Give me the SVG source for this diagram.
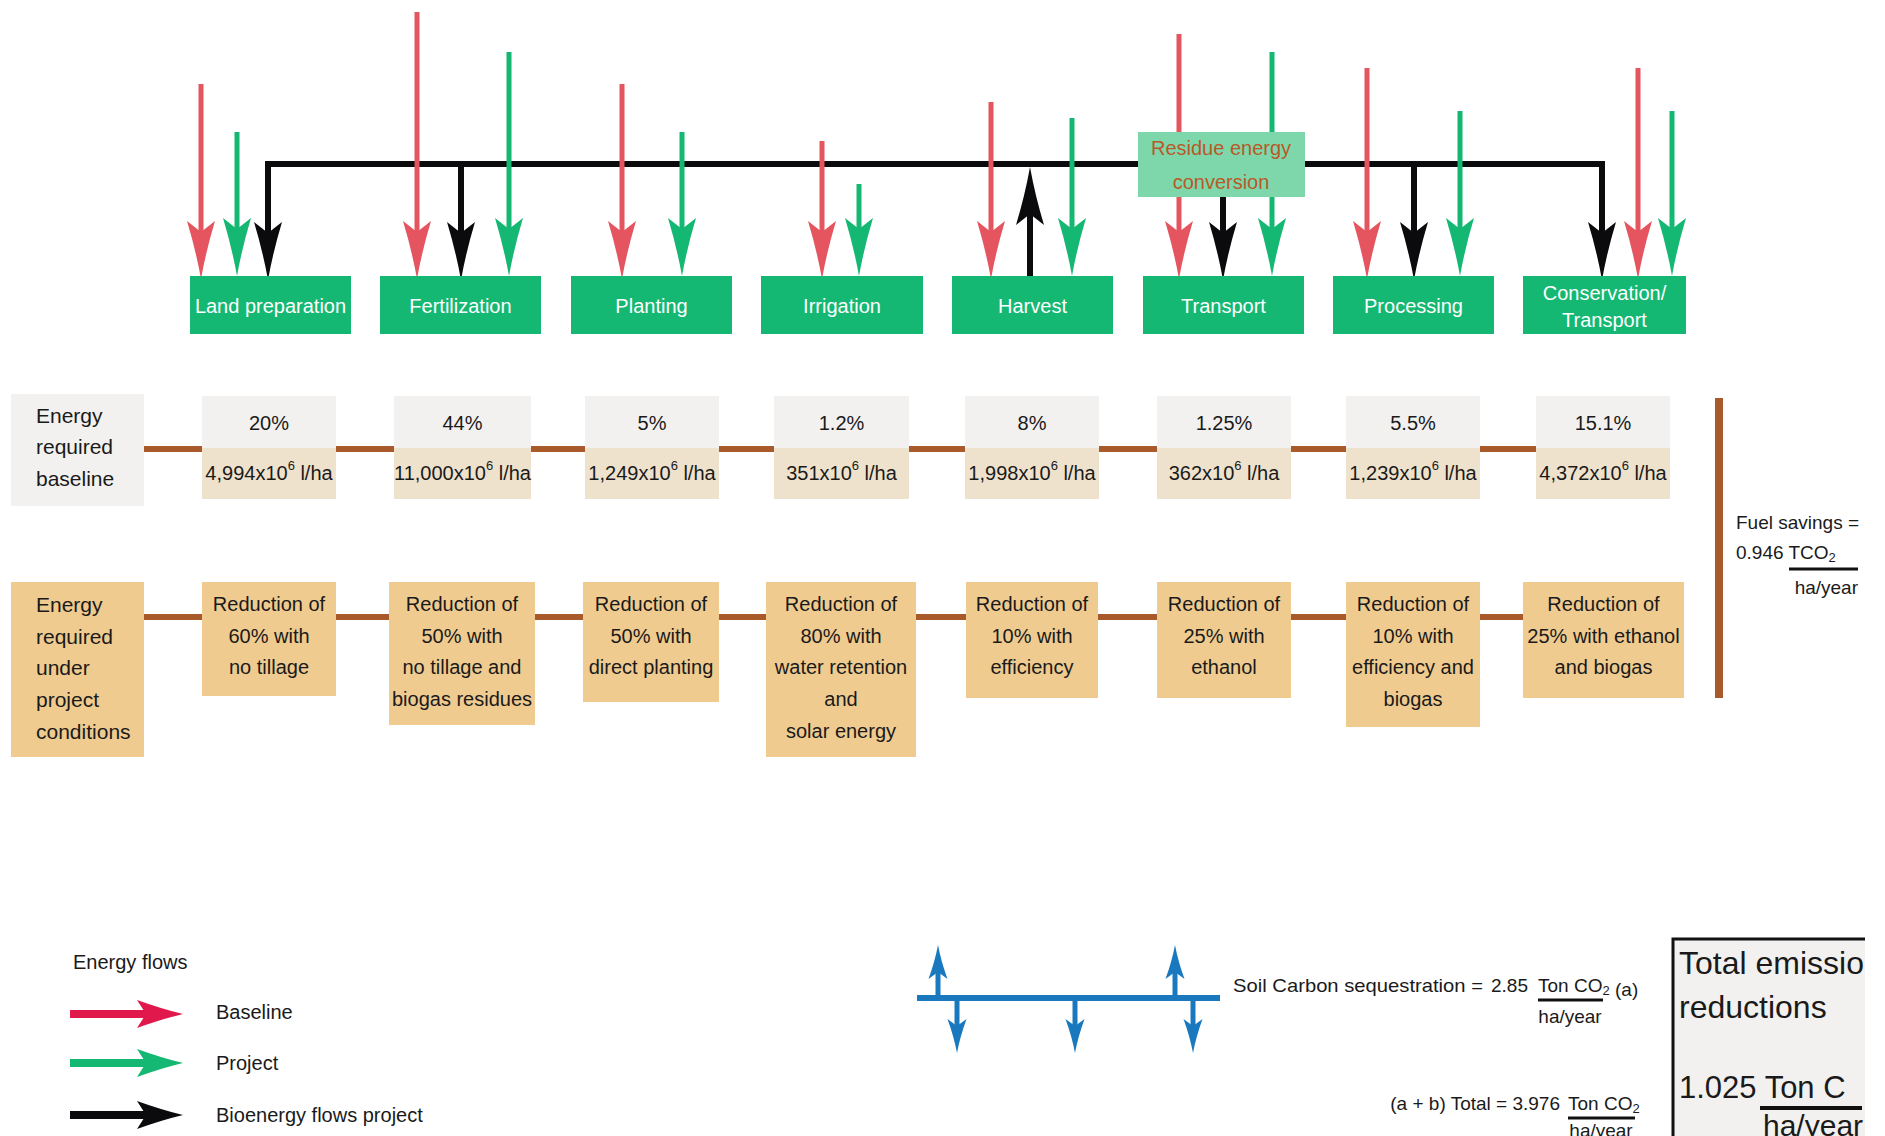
<svg xmlns="http://www.w3.org/2000/svg" width="1885" height="1136" viewBox="0 0 1885 1136">
<style>
text{font-family:"Liberation Sans",Arial,sans-serif;fill:#1a1a1a;dominant-baseline:central}
.m{text-anchor:middle}
.e{text-anchor:end}
.f20{font-size:20px}
.f21{font-size:21px}
.f19{font-size:19px}
.wt{fill:#fff;font-size:20px;text-anchor:middle}
.stage{fill:#14B872}
.gray{fill:#F2F1F0}
.beige{fill:#EFE2CC}
.tan{fill:#F0CB90}
.red{stroke:#E5555F;stroke-width:5;fill:none;marker-end:url(#hR)}
.grn{stroke:#14B872;stroke-width:5;fill:none;marker-end:url(#hG)}
.blk{stroke:#0B0B0E;stroke-width:6;fill:none;marker-end:url(#hK)}
.blu{stroke:#1A78BF;stroke-width:5;fill:none;marker-end:url(#hB)}
.brown{stroke:#A85A2B;stroke-width:6;fill:none}
.bar{stroke:#111;stroke-width:3}
</style>
<defs>
<marker id="hR" markerUnits="userSpaceOnUse" viewBox="0 -15 58 30" refX="28" refY="0" markerWidth="58" markerHeight="30" orient="auto"><path d="M58,0 Q30,-5 0,-14 L11,0 L0,14 Q30,5 58,0Z" fill="#E5555F"/></marker>
<marker id="hG" markerUnits="userSpaceOnUse" viewBox="0 -15 58 30" refX="28" refY="0" markerWidth="58" markerHeight="30" orient="auto"><path d="M58,0 Q30,-5 0,-14 L11,0 L0,14 Q30,5 58,0Z" fill="#14B872"/></marker>
<marker id="hK" markerUnits="userSpaceOnUse" viewBox="0 -15 58 30" refX="28" refY="0" markerWidth="58" markerHeight="30" orient="auto"><path d="M58,0 Q30,-5 0,-14 L11,0 L0,14 Q30,5 58,0Z" fill="#0B0B0E"/></marker>
<marker id="hB" markerUnits="userSpaceOnUse" viewBox="0 -10 34 20" refX="14" refY="0" markerWidth="34" markerHeight="20" orient="auto"><path d="M34,0 Q18,-3 0,-9.5 L7,0 L0,9.5 Q18,3 34,0Z" fill="#1A78BF"/></marker>
<marker id="lR" markerUnits="userSpaceOnUse" viewBox="0 -15 46 30" refX="16" refY="0" markerWidth="46" markerHeight="30" orient="auto"><path d="M46,0 Q25,-5 0,-14 L9,0 L0,14 Q25,5 46,0Z" fill="#E0184B"/></marker>
<marker id="lG" markerUnits="userSpaceOnUse" viewBox="0 -15 46 30" refX="16" refY="0" markerWidth="46" markerHeight="30" orient="auto"><path d="M46,0 Q25,-5 0,-14 L9,0 L0,14 Q25,5 46,0Z" fill="#14B872"/></marker>
<marker id="lK" markerUnits="userSpaceOnUse" viewBox="0 -15 46 30" refX="16" refY="0" markerWidth="46" markerHeight="30" orient="auto"><path d="M46,0 Q25,-5 0,-14 L9,0 L0,14 Q25,5 46,0Z" fill="#0B0B0E"/></marker>
<clipPath id="clipR"><rect x="0" y="0" width="1865" height="1136"/></clipPath>
</defs>
<rect width="1885" height="1136" fill="#fff"/>

<!-- row connectors (brown) -->
<g id="row-connectors">
<path class="brown" d="M144,449 H1536"/>
<path class="brown" d="M144,617 H1523"/>
<path d="M1719,398 V698" stroke="#A85A2B" stroke-width="8"/>
</g>

<!-- top flow connectors -->
<g id="connectors">
<path d="M268,164 H1602" stroke="#0B0B0E" stroke-width="6" stroke-linecap="square" fill="none"/>
<path class="blk" d="M268,161 V250"/>
<path class="blk" d="M461,164 V250"/>
<path class="blk" d="M1414,164 V250"/>
<path class="blk" d="M1602,161 V250"/>
<path class="blk" d="M1030,276 V197"/>
<path class="red" d="M201,84 V249"/>
<path class="grn" d="M237,132 V246"/>
<path class="red" d="M417,12 V249"/>
<path class="grn" d="M509,52 V246"/>
<path class="red" d="M622,84 V249"/>
<path class="grn" d="M682,132 V246"/>
<path class="red" d="M822,141 V249"/>
<path class="grn" d="M859,184 V246"/>
<path class="red" d="M991,102 V249"/>
<path class="grn" d="M1072,118 V246"/>
<path class="red" d="M1179,34 V249"/>
<path class="grn" d="M1272,52 V246"/>
<path class="red" d="M1367,68 V249"/>
<path class="grn" d="M1460,111 V246"/>
<path class="red" d="M1638,68 V249"/>
<path class="grn" d="M1672,111 V246"/>
</g>

<g id="residue-energy-conversion">
<rect x="1138" y="132" width="167" height="65" fill="#7DD7AB"/>
<text class="m" x="1221" y="148" style="font-size:20px;fill:#B85A28">Residue energy</text>
<text class="m" x="1221" y="182" style="font-size:20px;fill:#B85A28">conversion</text>
</g>
<g id="residue-to-transport">
<path class="blk" d="M1223,197 V250"/>
</g>

<!-- stage boxes -->
<g id="land-preparation"><rect class="stage" x="190" y="276" width="161" height="58"/><text class="wt" x="270.5" y="306">Land preparation</text></g>
<g id="fertilization"><rect class="stage" x="380" y="276" width="161" height="58"/><text class="wt" x="460.5" y="306">Fertilization</text></g>
<g id="planting"><rect class="stage" x="571" y="276" width="161" height="58"/><text class="wt" x="651.5" y="306">Planting</text></g>
<g id="irrigation"><rect class="stage" x="761" y="276" width="162" height="58"/><text class="wt" x="842" y="306">Irrigation</text></g>
<g id="harvest"><rect class="stage" x="952" y="276" width="161" height="58"/><text class="wt" x="1032.5" y="306">Harvest</text></g>
<g id="transport"><rect class="stage" x="1143" y="276" width="161" height="58"/><text class="wt" x="1223.5" y="306">Transport</text></g>
<g id="processing"><rect class="stage" x="1333" y="276" width="161" height="58"/><text class="wt" x="1413.5" y="306">Processing</text></g>
<g id="conservation-transport"><rect class="stage" x="1523" y="276" width="163" height="58"/><text class="wt" x="1604.5" y="293">Conservation/</text><text class="wt" x="1604.5" y="320">Transport</text></g>

<!-- baseline row -->
<g id="baseline-label"><rect class="gray" x="11" y="394" width="133" height="112"/>
<text class="f21" x="36" y="415">Energy</text><text class="f21" x="36" y="446">required</text><text class="f21" x="36" y="478">baseline</text></g>
<g id="base-1"><rect class="gray" x="202" y="396" width="134" height="52"/><rect class="beige" x="202" y="448" width="134" height="51"/>
<text class="m f20" x="269" y="423">20%</text><text class="m f20" x="269" y="473">4,994x10<tspan dy="-8" font-size="13">6</tspan><tspan dy="8"> l/ha</tspan></text></g>
<g id="base-2"><rect class="gray" x="394" y="396" width="137" height="52"/><rect class="beige" x="394" y="448" width="137" height="51"/>
<text class="m f20" x="462.5" y="423">44%</text><text class="m f20" x="462.5" y="473">11,000x10<tspan dy="-8" font-size="13">6</tspan><tspan dy="8"> l/ha</tspan></text></g>
<g id="base-3"><rect class="gray" x="585" y="396" width="134" height="52"/><rect class="beige" x="585" y="448" width="134" height="51"/>
<text class="m f20" x="652" y="423">5%</text><text class="m f20" x="652" y="473">1,249x10<tspan dy="-8" font-size="13">6</tspan><tspan dy="8"> l/ha</tspan></text></g>
<g id="base-4"><rect class="gray" x="774" y="396" width="135" height="52"/><rect class="beige" x="774" y="448" width="135" height="51"/>
<text class="m f20" x="841.5" y="423">1.2%</text><text class="m f20" x="841.5" y="473">351x10<tspan dy="-8" font-size="13">6</tspan><tspan dy="8"> l/ha</tspan></text></g>
<g id="base-5"><rect class="gray" x="965" y="396" width="134" height="52"/><rect class="beige" x="965" y="448" width="134" height="51"/>
<text class="m f20" x="1032" y="423">8%</text><text class="m f20" x="1032" y="473">1,998x10<tspan dy="-8" font-size="13">6</tspan><tspan dy="8"> l/ha</tspan></text></g>
<g id="base-6"><rect class="gray" x="1157" y="396" width="134" height="52"/><rect class="beige" x="1157" y="448" width="134" height="51"/>
<text class="m f20" x="1224" y="423">1.25%</text><text class="m f20" x="1224" y="473">362x10<tspan dy="-8" font-size="13">6</tspan><tspan dy="8"> l/ha</tspan></text></g>
<g id="base-7"><rect class="gray" x="1346" y="396" width="134" height="52"/><rect class="beige" x="1346" y="448" width="134" height="51"/>
<text class="m f20" x="1413" y="423">5.5%</text><text class="m f20" x="1413" y="473">1,239x10<tspan dy="-8" font-size="13">6</tspan><tspan dy="8"> l/ha</tspan></text></g>
<g id="base-8"><rect class="gray" x="1536" y="396" width="134" height="52"/><rect class="beige" x="1536" y="448" width="134" height="51"/>
<text class="m f20" x="1603" y="423">15.1%</text><text class="m f20" x="1603" y="473">4,372x10<tspan dy="-8" font-size="13">6</tspan><tspan dy="8"> l/ha</tspan></text></g>

<g id="fuel-savings">
<text class="f19" x="1736" y="522">Fuel savings =</text>
<text class="f19" x="1736" y="552">0.946 TCO<tspan dy="5" font-size="13">2</tspan></text>
<line class="bar" x1="1789" y1="569" x2="1858" y2="569"/>
<text class="f19 e" x="1858" y="587">ha/year</text>
</g>

<!-- project row -->
<g id="project-label"><rect class="tan" x="11" y="582" width="133" height="175"/>
<text class="f21" x="36" y="604">Energy</text><text class="f21" x="36" y="636">required</text><text class="f21" x="36" y="667">under</text><text class="f21" x="36" y="699">project</text><text class="f21" x="36" y="731">conditions</text></g>
<g id="proj-1"><rect class="tan" x="202" y="582" width="134" height="114"/>
<text class="m f20" x="269" y="604">Reduction of</text><text class="m f20" x="269" y="636">60% with</text><text class="m f20" x="269" y="667">no tillage</text></g>
<g id="proj-2"><rect class="tan" x="389" y="582" width="146" height="143"/>
<text class="m f20" x="462" y="604">Reduction of</text><text class="m f20" x="462" y="636">50% with</text><text class="m f20" x="462" y="667">no tillage and</text><text class="m f20" x="462" y="699">biogas residues</text></g>
<g id="proj-3"><rect class="tan" x="583" y="582" width="136" height="120"/>
<text class="m f20" x="651" y="604">Reduction of</text><text class="m f20" x="651" y="636">50% with</text><text class="m f20" x="651" y="667">direct planting</text></g>
<g id="proj-4"><rect class="tan" x="766" y="582" width="150" height="175"/>
<text class="m f20" x="841" y="604">Reduction of</text><text class="m f20" x="841" y="636">80% with</text><text class="m f20" x="841" y="667">water retention</text><text class="m f20" x="841" y="699">and</text><text class="m f20" x="841" y="731">solar energy</text></g>
<g id="proj-5"><rect class="tan" x="966" y="582" width="132" height="116"/>
<text class="m f20" x="1032" y="604">Reduction of</text><text class="m f20" x="1032" y="636">10% with</text><text class="m f20" x="1032" y="667">efficiency</text></g>
<g id="proj-6"><rect class="tan" x="1157" y="582" width="134" height="116"/>
<text class="m f20" x="1224" y="604">Reduction of</text><text class="m f20" x="1224" y="636">25% with</text><text class="m f20" x="1224" y="667">ethanol</text></g>
<g id="proj-7"><rect class="tan" x="1346" y="582" width="134" height="145"/>
<text class="m f20" x="1413" y="604">Reduction of</text><text class="m f20" x="1413" y="636">10% with</text><text class="m f20" x="1413" y="667">efficiency and</text><text class="m f20" x="1413" y="699">biogas</text></g>
<g id="proj-8"><rect class="tan" x="1523" y="582" width="161" height="116"/>
<text class="m f20" x="1603.5" y="604">Reduction of</text><text class="m f20" x="1603.5" y="636">25% with ethanol</text><text class="m f20" x="1603.5" y="667">and biogas</text></g>

<!-- legend -->
<g id="legend">
<text class="f20" x="73" y="962">Energy flows</text>
<path d="M70,1014 H153" stroke="#E0184B" stroke-width="8" marker-end="url(#lR)"/>
<text class="f20" x="216" y="1012">Baseline</text>
<path d="M70,1063 H153" stroke="#14B872" stroke-width="8" marker-end="url(#lG)"/>
<text class="f20" x="216" y="1063">Project</text>
<path d="M70,1115 H153" stroke="#0B0B0E" stroke-width="8" marker-end="url(#lK)"/>
<text class="f20" x="216" y="1115">Bioenergy flows project</text>
</g>

<!-- soil carbon -->
<g id="soil-carbon-flows">
<path d="M917,998 H1220" stroke="#1A78BF" stroke-width="6"/>
<path class="blu" d="M938,998 V965"/>
<path class="blu" d="M1175,998 V965"/>
<path class="blu" d="M957,998 V1033"/>
<path class="blu" d="M1075,998 V1033"/>
<path class="blu" d="M1193,998 V1033"/>
</g>
<g id="soil-carbon-text">
<text class="f19" x="1233" y="985" textLength="250" lengthAdjust="spacingAndGlyphs">Soil Carbon sequestration =</text>
<text class="f19 e" x="1528" y="985">2.85</text>
<text class="f19" x="1538" y="985">Ton CO<tspan dy="5" font-size="13">2</tspan></text>
<text class="f19" x="1615" y="989">(a)</text>
<line class="bar" x1="1538" y1="1000" x2="1603" y2="1000"/>
<text class="f19 m" x="1570" y="1016">ha/year</text>
</g>
<g id="total-text">
<text class="f19 e" x="1560" y="1103">(a + b) Total = 3.976</text>
<text class="f19" x="1568" y="1103">Ton CO<tspan dy="5" font-size="13">2</tspan></text>
<line class="bar" x1="1568" y1="1118" x2="1635" y2="1118"/>
<text class="f19 m" x="1601" y="1130">ha/year</text>
</g>

<g id="total-emission-reductions" clip-path="url(#clipR)">
<rect x="1673" y="939" width="240" height="230" fill="#F2F1F0" stroke="#111" stroke-width="3"/>
<text x="1679" y="963" style="font-size:32px">Total emission</text>
<text x="1679" y="1007" style="font-size:32px">reductions</text>
<text x="1679" y="1087" style="font-size:31px">1.025 Ton C</text>
<line x1="1760" y1="1108" x2="1862" y2="1108" stroke="#111" stroke-width="4"/>
<text x="1763" y="1125" style="font-size:30px">ha/year</text>
</g>
</svg>
